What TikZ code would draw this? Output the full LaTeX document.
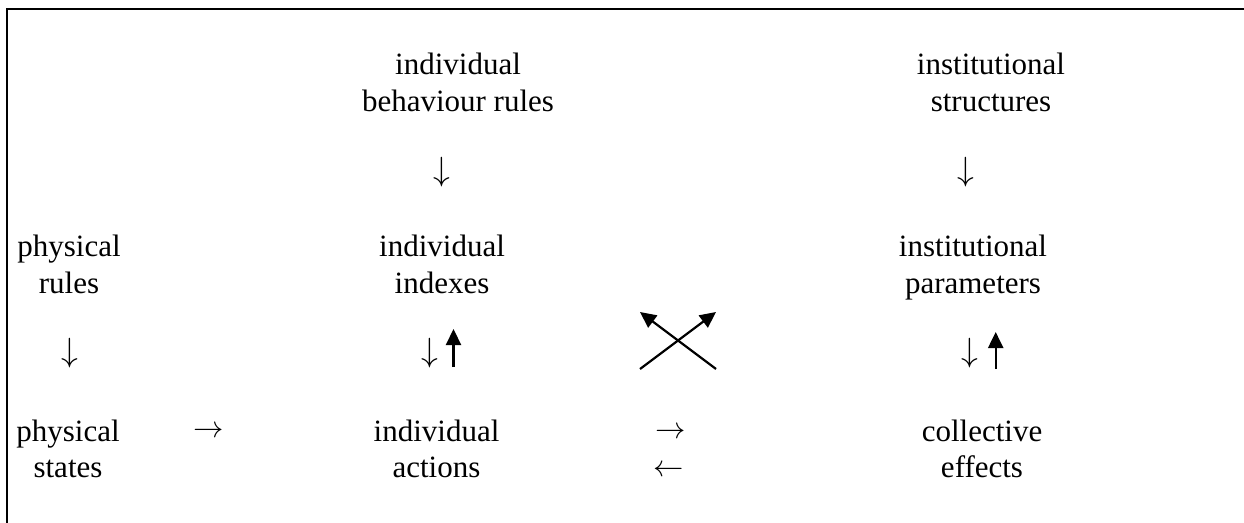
\documentclass[tikz,border=0pt]{standalone}
\usepackage{fontspec}
\setmainfont{Liberation Serif}
\usetikzlibrary{arrows.meta}
\newcommand{\bigglyph}[2][1.22]{\scalebox{#1}{\fontsize{24.88}{30}\selectfont$#2$}}
\tikzset{
  concept/.style={anchor=base, align=center, inner sep=0pt, font=\fontsize{31}{36.5}\selectfont},
  glyph/.style={anchor=center, inner sep=0pt},
  thickarrow/.style={line width=2.2pt, -{Triangle[width=15pt,length=16pt]}},
  frame/.style={line width=2.3pt}
}
\begin{document}
\begin{tikzpicture}[x=1pt,y=-1pt]
\useasboundingbox (0,0) rectangle (1244,522);
\draw[frame] (6.8,560) |- (1280,9);
% concepts (anchor = baseline of the last line)
\node[concept] (ibr) at (458,111) {individual\\behaviour rules};
\node[concept] (is)  at (991,111) {institutional\\structures};
\node[concept] (pr)  at (69,293) {physical\\rules};
\node[concept] (ii)  at (442,293) {individual\\indexes};
\node[concept] (ip)  at (973,293) {institutional\\parameters};
\node[concept] (ps)  at (68,477.5) {physical\\states};
\node[concept] (ia)  at (436.5,477.5) {individual\\actions};
\node[concept] (ce)  at (982,477.5) {collective\\effects};
% glyph arrows
\node[glyph] (d1) at (442,172.5) {\bigglyph[1.35]{\downarrow}};
\node[glyph] (d2) at (966,172.5) {\bigglyph[1.35]{\downarrow}};
\node[glyph] (d3) at (70,353.5) {\bigglyph[1.35]{\downarrow}};
\node[glyph] (d4) at (430,353.5) {\bigglyph[1.35]{\downarrow}};
\node[glyph] (d5) at (970,353.5) {\bigglyph[1.35]{\downarrow}};
\node[glyph] (r1) at (209,432) {\bigglyph{\rightarrow}};
\node[glyph] (r2) at (671,433) {\bigglyph{\rightarrow}};
\node[glyph] (l1) at (668.5,471) {\bigglyph{\leftarrow}};
% drawn arrows
\coordinate (u1s) at (453.5,367);
\coordinate (u1e) at (453.5,329);
\coordinate (u2s) at (995.7,369);
\coordinate (u2e) at (995.7,332);
\coordinate (c1s) at (640,369);
\coordinate (c1e) at (716,312);
\coordinate (c2s) at (716,369);
\coordinate (c2e) at (640,312);
\draw[thickarrow] (u1s) -- (u1e);
\draw[thickarrow] (u2s) -- (u2e);
\draw[thickarrow] (c1s) -- (c1e);
\draw[thickarrow] (c2s) -- (c2e);
\end{tikzpicture}
\end{document}
